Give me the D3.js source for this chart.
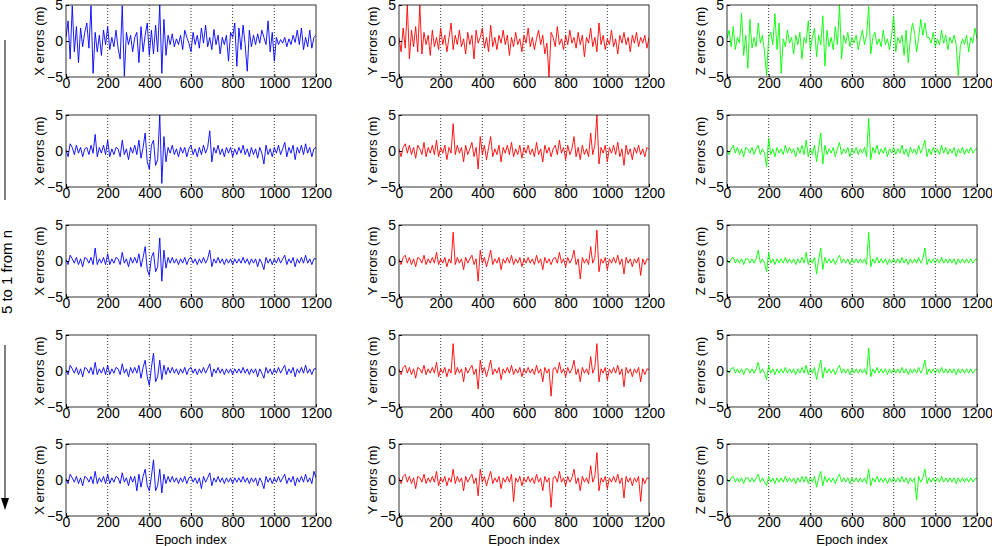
<!DOCTYPE html>
<html><head><meta charset="utf-8">
<script src="https://cdn.jsdelivr.net/npm/d3@7"></script>
<style>body{margin:0;background:#fff}svg{font-family:"Liberation Sans",Arial,sans-serif}</style>
</head><body><svg id="chart" width="992" height="546"></svg>
<script>
var xTicks = [0, 200, 400, 600, 800, 1000, 1200];
var yTicks = [-5, 0, 5];
var axisNames = ["X", "Y", "Z"];
var colors = ["#0000ff", "#ff0000", "#00ff00"];

var x1 = [0.5,2.8,-2.5,4.9,-1.5,2,-3,1.8,-0.8,1.2,2.5,-1,4.9,-4.5,1.2,-1.5,0.8,-2,1.5,-0.5,2,-1.2,0.5,-0.8,1.5,-1,-2.5,4.9,-4.9,1.2,-0.5,0.8,-1.5,0.5,1.2,-3,2,-1.5,0.8,2.5,-2,1.5,-1.8,2.2,-1.5,5,-4.5,3,-2,0.8,-0.5,1,-0.8,0.3,-0.5,0.8,-1.2,1.5,0.5,-0.3,-1.5,1.2,-0.5,0.8,-1,1.8,-0.3,2.2,-0.8,0.5,-1.2,1.6,-0.5,0.8,-1.8,0.5,-0.5,0.8,-2.8,1.2,0.5,2.5,-3.5,1.8,-1.2,2.2,-0.5,-4.2,1.5,-0.8,0.8,-0.5,1,-0.3,1.5,0.5,-0.5,2.8,-1.5,1.2,-2.8,0.5,-0.5,0.2,-0.3,0.5,-0.8,0.3,-0.5,0.8,-0.2,1.5,-0.5,1.8,-1.2,0.5,-0.8,1.5,-1,0.5,0.8];
var y1 = [0.5,-1.5,1.8,-1,5,-2.5,1.5,-0.8,2,-1.5,5,-1.8,1.2,-0.5,0.8,-2,1.5,-0.8,0.5,-1.2,1.8,-0.5,0.8,-1.5,0.5,2.5,-1.2,0.8,-0.5,1.5,-0.8,0.3,-1.8,1.2,-0.5,0.8,-2.5,1.5,-0.3,0.5,1.8,-1,0.5,-1.5,2.2,-0.8,0.5,-1.2,0.8,-0.3,1.5,-0.5,0.8,-2,0.5,-0.8,1.2,-0.5,0.3,-1.5,0.8,-0.3,1.8,-0.8,0.5,-1.2,0.3,1.5,-0.5,0.8,-1.8,-0.3,-5,1.2,0.5,-0.8,2,-0.5,0.3,-1.2,0.8,-0.5,1.5,-0.3,0.5,-1,1.2,-0.5,0.8,-2.2,0.5,-0.3,1.8,-0.8,0.5,-1.5,2.5,-0.5,0.8,-1.2,0.3,-0.5,1.5,-0.8,0.3,-1.8,0.8,-0.3,1.2,-0.5,0.5,-1.5,0.8,-0.3,1.2,-0.8,0.5,-0.3,0.8,-1,0.5];
var z1 = [0.3,1.5,-0.8,2,-1.2,0.5,-0.3,3.8,-2,0.8,-3.8,3,-1,0.5,-0.8,2.5,-0.3,0.8,-1.5,-4.8,0.5,1.2,-0.5,3.8,-1.2,2.5,-4.5,0.3,-0.8,1.5,-0.3,0.5,-1.8,0.8,-0.5,1.2,-2.5,0.5,-0.3,2.8,-1.2,0.5,1.8,-2.2,0.8,-0.5,3.5,-3.5,1.5,-0.8,0.5,-1.2,2,-0.5,5,-2.5,0.8,-0.3,1.2,-0.8,0.5,-0.3,0.8,-1.2,0.3,1.5,-0.5,0.8,4.8,-1.8,0.5,1.2,-0.5,0.3,-0.8,1.5,-0.5,0.3,-1.2,0.8,3.5,-1.5,0.5,-0.3,0.8,-2,1.5,-3,0.3,2.5,1.2,-1.5,0.5,3,0.8,2.5,0.5,0.5,-0.3,1.2,-0.8,0.3,-0.5,1.5,-0.3,0.8,-1.2,0.5,-0.3,0.8,-0.5,-4.8,-0.8,0.3,-0.5,0.8,-1.5,0.5,-0.3,1.8,0.3];
var x2 = [0.2,-0.8,1,0.5,-0.5,0.8,-0.3,0.5,-0.8,0.3,0.5,-0.5,0.8,-0.3,2.3,-0.8,0.5,-0.3,0.8,-0.5,1.5,-0.8,0.3,-0.5,0.5,0.3,-0.8,1.5,-0.5,0.3,-1.2,0.5,-0.3,0.8,-0.5,1.5,-1,0.5,2.5,-1.5,-2.5,0.8,1.5,-2,-1.2,5,-4.5,2,-1.5,0.5,-0.3,0.8,-0.5,0.3,-0.8,0.5,-0.3,0.5,-0.8,0.3,0.8,-0.5,0.3,-0.8,0.5,-0.5,0.8,-0.3,0.5,2.8,-1.5,0.5,-0.3,0.8,-0.5,0.3,-0.8,0.5,-0.3,0.5,-0.8,0.3,-0.5,0.5,-0.3,0.8,-0.5,0.3,-0.8,0.5,-0.5,0.3,-1,0.5,-0.3,-1.8,0.8,-0.5,0.3,-0.8,0.5,-0.3,0.8,-0.5,0.3,1.2,-0.8,0.5,-0.3,0.8,-1.2,0.5,-0.3,0.8,-0.5,1,-0.3,0.5,-0.8,0.3,0.5];
var y2 = [0.3,-0.8,0.5,1,-0.3,0.8,-0.5,0.5,-1,0.8,0.3,-0.5,1.2,-0.8,0.5,-0.3,0.8,-0.5,1.5,-0.8,0.5,-0.3,0.8,-1.2,0.5,-0.3,3.8,-0.5,0.8,-0.3,0.5,-1.5,0.8,-0.5,0.3,1.2,-0.8,0.5,-2.5,2,-0.5,0.8,-1.2,0.5,2,-0.8,0.3,-0.5,0.8,-1.5,0.5,-0.3,0.8,-0.5,1.2,-0.8,0.3,-0.5,0.8,-1,0.5,-0.3,0.8,-0.5,0.3,-0.8,1.2,-0.5,0.3,-1.5,0.8,-0.3,0.5,-0.8,0.3,0.8,-0.5,1.5,-0.3,0.5,-1.2,0.8,-0.5,0.3,2,-0.8,0.5,-1.2,0.8,-0.5,0.3,-0.8,2.5,-0.5,0.8,5,-1.8,0.5,-0.3,0.8,-1.5,0.5,-0.3,0.8,-0.5,1.2,-0.8,0.3,-2,0.8,-0.5,0.3,-1.2,0.5,-0.3,0.8,-0.5,0.3,-0.8,0.5,0.2];
var z2 = [0.2,-0.5,0.3,0.8,-0.3,0.5,-0.5,0.3,-0.8,0.5,0.3,-0.3,0.5,-0.5,0.3,0.8,-0.5,0.3,-0.3,-2.2,1.8,-0.5,0.3,-0.8,0.5,-0.3,0.3,-0.5,0.8,-0.3,0.5,-0.3,0.3,-0.8,0.5,-0.3,0.8,-0.5,1.5,-0.8,0.3,-0.5,0.8,-1.5,0.5,2.5,-1.8,0.8,-0.5,0.3,-0.3,0.5,-0.8,0.3,1.2,-0.5,0.3,-0.3,0.5,-0.8,0.3,-0.3,0.5,-0.5,0.3,-0.3,0.5,-0.8,4.5,-1.2,0.5,-0.3,0.8,-0.5,0.3,-0.3,0.5,-0.8,0.3,-0.3,0.5,-0.5,0.3,-0.3,0.8,-0.5,0.3,-0.8,0.5,-0.3,0.3,-0.5,0.8,-0.3,0.5,1.5,-0.8,0.3,-0.5,0.5,-0.3,0.3,-0.5,0.8,-0.3,0.5,-0.5,0.3,-0.3,0.5,-0.8,0.3,-0.3,0.5,-0.5,0.3,-0.3,0.5,-0.3,0.2,0.3];
var x3 = [0.2,-0.5,0.8,0.3,-0.3,0.5,-0.5,0.3,-0.8,0.5,0.3,-0.3,0.5,-0.5,1.8,-0.5,0.3,-0.3,0.5,-0.5,1,-0.5,0.3,-0.3,0.5,0.3,-0.5,1.2,-0.3,0.3,-0.8,0.5,-0.3,0.5,-0.3,1,-0.8,0.5,2,-1.2,-2,0.5,1.2,-1.5,-0.8,3.2,-2.8,1.5,-1,0.5,-0.3,0.5,-0.3,0.3,-0.5,0.3,-0.3,0.5,-0.5,0.3,0.5,-0.3,0.3,-0.5,0.3,-0.3,0.5,-0.3,0.3,1.5,-0.8,0.3,-0.3,0.5,-0.3,0.3,-0.5,0.3,-0.3,0.3,-0.5,0.3,-0.3,0.3,-0.3,0.5,-0.3,0.3,-0.5,0.3,-0.3,0.3,-0.8,0.3,-0.3,-1.2,0.5,-0.3,0.3,-0.5,0.3,-0.3,0.5,-0.3,0.3,0.8,-0.5,0.3,-0.3,0.5,-0.8,0.3,-0.3,0.5,-0.3,0.8,-0.3,0.3,-0.5,0.3,0.3];
var y3 = [0.3,-0.5,0.5,0.8,-0.3,0.5,-0.5,0.3,-0.8,0.5,0.3,-0.3,0.8,-0.5,0.3,-0.3,0.5,-0.3,1.2,-0.5,0.3,-0.3,0.5,-0.8,0.3,-0.3,4,-0.5,0.5,-0.3,0.3,-1.2,0.5,-0.3,0.3,0.8,-0.5,0.3,-2.8,1.5,-0.3,0.5,-0.8,0.3,1.5,-0.5,0.3,-0.3,0.5,-1.2,0.3,-0.3,0.5,-0.3,0.8,-0.5,0.3,-0.3,0.5,-0.8,0.3,-0.3,0.5,-0.3,0.3,-0.5,0.8,-0.3,0.3,-1.2,0.5,-0.3,0.3,-0.5,0.3,0.5,-0.3,1.2,-0.3,0.3,-0.8,0.5,-0.3,0.3,1.5,-0.5,0.3,-2.5,0.5,-0.3,0.3,-0.5,2,-0.3,0.5,4.3,-1.5,0.3,-0.3,0.5,-1.2,0.3,-0.3,0.5,-0.3,0.8,-0.5,0.3,-1.8,0.5,-0.3,0.3,-0.8,0.3,-0.3,0.5,-2,0.3,-0.5,0.3,0.2];
var z3 = [0.2,-0.3,0.3,0.5,-0.3,0.3,-0.3,0.3,-0.5,0.3,0.3,-0.3,0.3,-0.3,0.3,1.5,-0.3,0.3,-0.3,-1.5,1.2,-0.3,0.3,-0.5,0.3,-0.3,0.3,-0.3,0.5,-0.3,0.3,-0.3,0.3,-0.5,0.3,-0.3,0.5,-0.3,1.2,-0.5,0.3,-0.3,0.5,-1.8,0.3,1.8,-1.2,0.5,-0.3,0.3,-0.3,0.3,-0.5,0.3,0.8,-0.3,0.3,-0.3,0.3,-0.5,0.3,-0.3,0.3,-0.3,0.3,-0.3,0.3,-0.5,4,-0.8,0.3,-0.3,0.5,-0.3,0.3,-0.3,0.3,-0.5,0.3,-0.3,0.3,-0.3,0.3,-0.3,0.5,-0.3,0.3,-0.5,0.3,-0.3,0.3,-0.3,0.5,-0.3,0.3,1.8,-0.5,0.3,-0.3,0.3,-0.3,0.3,-0.3,0.5,-0.3,0.3,-0.3,0.3,-0.3,0.3,-0.5,0.3,-0.3,0.3,-0.3,0.3,-0.3,0.3,-0.3,0.2,0.2];
var x4 = [0.2,-0.5,0.8,0.3,-0.3,0.5,-0.5,0.3,-0.8,0.5,0.3,-0.3,0.5,-0.5,1.2,-0.5,0.3,-0.3,0.5,-0.5,0.8,-0.5,0.3,-0.3,0.5,0.3,-0.5,1,-0.3,0.3,-0.8,0.5,-0.3,0.5,-0.3,0.8,-1,0.5,1.5,-0.8,-2,0.5,2.5,-1.5,-0.8,1.5,-1.2,0.8,-0.5,0.5,-0.3,0.5,-0.3,0.3,-0.5,0.3,-0.3,0.5,-0.5,0.3,0.5,-0.3,0.3,-0.5,0.3,-0.3,0.5,-0.3,0.3,1,-0.8,0.3,-0.3,0.5,-0.3,0.3,-0.5,0.3,-0.3,0.3,-0.5,0.3,-0.3,0.3,-0.3,0.5,-0.3,0.3,-0.5,0.3,-0.3,0.3,-0.8,0.3,-0.3,-1,0.5,-0.3,0.3,-0.5,0.3,-0.3,0.5,-0.3,0.3,0.8,-0.5,0.3,-0.3,0.5,-0.8,0.3,-0.3,0.5,-0.3,0.8,-0.3,0.3,-0.5,0.3,0.3];
var y4 = [0.3,-0.5,0.5,0.8,-0.3,0.5,-0.5,0.3,-1,0.5,0.3,-0.3,0.8,-0.5,0.3,-0.3,0.5,-0.3,1.2,-0.8,0.3,-0.3,0.5,-0.8,0.3,-0.3,3.8,-0.5,0.5,-0.3,0.3,-1.5,0.5,-0.3,0.3,0.8,-0.5,0.3,-2.5,1.5,-0.3,0.5,-0.8,0.3,1.5,-0.5,0.3,-0.3,0.5,-1.2,0.3,-0.3,0.5,-0.3,0.8,-0.5,0.3,-0.3,0.5,-0.8,0.3,-0.3,0.5,-0.3,0.3,-0.5,0.8,-0.3,0.3,-1.5,0.5,-0.3,0.3,-3.5,0.3,0.5,-0.3,1.2,-0.3,0.3,-0.8,0.5,-0.3,0.3,1.5,-0.5,0.3,-1.5,0.5,-0.3,0.3,-0.5,2,-0.3,0.5,3.8,-1.5,0.3,-0.3,0.5,-1.2,0.3,-0.3,0.5,-0.3,0.8,-0.5,0.3,-2.2,0.5,-0.3,0.3,-0.8,0.3,-0.3,0.5,-1.5,0.3,-0.5,0.3,0.2];
var z4 = [0.2,-0.3,0.3,0.5,-0.3,0.3,-0.3,0.3,-0.5,0.3,0.3,-0.3,0.3,-0.3,0.3,1.2,-0.3,0.3,-0.3,-1.2,0.8,-0.3,0.3,-0.5,0.3,-0.3,0.3,-0.3,0.5,-0.3,0.3,-0.3,0.3,-0.5,0.3,-0.3,0.5,-0.3,0.8,-0.5,0.3,-0.3,0.5,-1.2,0.3,1.5,-1,0.5,-0.3,0.3,-0.3,0.3,-0.5,0.3,0.8,-0.3,0.3,-0.3,0.3,-0.5,0.3,-0.3,0.3,-0.3,0.3,-0.3,0.3,-0.5,3.2,-0.8,0.3,-0.3,0.5,-0.3,0.3,-0.3,0.3,-0.5,0.3,-0.3,0.3,-0.3,0.3,-0.3,0.5,-0.3,0.3,-0.5,0.3,-0.3,0.3,-0.3,0.5,-0.3,0.3,1.5,-0.5,0.3,-0.3,0.3,-0.3,0.3,-0.3,0.5,-0.3,0.3,-0.3,0.3,-0.3,0.3,-0.5,0.3,-0.3,0.3,-0.3,0.3,-0.3,0.3,-0.3,0.2,0.2];
var x5 = [0.2,-0.5,0.8,0.3,-0.3,0.5,-0.5,0.3,-0.8,0.5,0.3,-0.3,0.5,-0.5,1.2,-0.5,0.3,-0.3,0.5,-0.5,0.8,-0.5,0.3,-0.3,0.5,0.3,-0.5,1,-0.3,0.3,-0.8,0.5,-0.3,0.5,-1.5,0.8,-1,0.5,1.5,-0.8,-1.5,0.5,2.8,-1.5,-0.8,1.5,-1.8,0.8,-0.5,0.5,-0.3,0.5,-0.3,0.3,-0.5,0.3,-0.3,0.5,-0.5,0.3,0.5,-0.3,0.3,-0.5,0.3,-1.2,0.5,-0.3,0.3,1,-0.8,0.3,-0.3,0.5,-0.3,0.3,-0.5,0.3,-0.3,0.3,-0.5,0.3,-0.3,0.3,-0.3,0.5,-0.3,0.3,-0.5,0.3,-0.3,0.3,-0.8,0.3,-0.3,-1.2,0.5,-0.3,0.3,-0.5,0.3,-0.3,0.5,-0.3,0.3,0.8,-0.5,0.3,-0.3,0.5,-0.8,0.3,-0.3,0.5,-0.3,0.8,-0.3,0.3,-0.5,1.2,0.3];
var y5 = [0.3,-0.5,0.5,0.8,-0.3,0.5,-0.5,0.3,-1.2,0.5,0.3,-0.3,0.8,-0.5,0.3,-0.3,0.5,-0.3,1.2,-0.8,0.3,-0.3,0.5,-0.8,0.3,-0.3,1.5,-0.5,0.5,-0.3,0.3,-1.5,0.5,-0.3,0.3,0.8,-0.5,0.3,-2.2,1.5,-0.3,0.5,-0.8,0.3,1.2,-0.5,0.3,-0.3,0.5,-1.2,0.3,-0.3,0.5,-0.3,0.8,-3,0.3,-0.3,0.5,-0.8,0.3,-0.3,0.5,-0.3,0.3,-0.5,0.8,-0.3,0.3,-1.5,0.5,-0.3,0.3,-3.8,0.3,0.5,-0.3,1.2,-0.3,0.3,-0.8,0.5,-0.3,0.3,1.5,-0.5,0.3,-1.5,0.5,-0.3,0.3,-0.5,2,-0.3,0.5,3.8,-1.5,0.3,-0.3,0.5,-1.2,0.3,-0.3,0.5,-0.3,0.8,-0.5,0.3,-2.5,0.5,-0.3,0.3,-0.8,0.3,-0.3,0.5,-3,0.3,-0.5,0.3,0.2];
var z5 = [0.2,-0.3,0.3,0.5,-0.3,0.3,-0.3,0.3,-0.5,0.3,0.3,-0.3,0.3,-0.3,0.3,0.8,-0.3,0.3,-0.3,-0.8,0.5,-0.3,0.3,-0.5,0.3,-0.3,0.3,-0.3,0.5,-0.3,0.3,-0.3,0.3,-0.5,0.3,-0.3,0.5,-0.3,0.5,-0.5,0.3,-0.3,0.5,-1,0.3,1.2,-0.8,0.5,-0.3,0.3,-0.3,0.3,-0.5,0.3,0.8,-0.3,0.3,-0.3,0.3,-0.5,0.3,-0.3,0.3,-0.3,0.3,-0.3,0.3,-0.5,1.5,-0.8,0.3,-0.3,0.5,-0.3,0.3,-0.3,0.3,-0.5,0.3,-0.3,0.3,-0.3,0.3,-0.3,0.5,-0.3,0.3,-0.5,0.3,-0.3,0.3,-2.8,0.5,-0.3,0.3,1.5,-0.5,0.3,-0.3,0.3,-0.3,0.3,-0.3,0.5,-0.3,0.3,-0.3,0.3,-0.3,0.3,-0.5,0.3,-0.3,0.3,-0.3,0.3,-0.3,0.3,-0.3,0.2,0.2];

var series = [[x1, y1, z1], [x2, y2, z2], [x3, y3, z3], [x4, y4, z4], [x5, y5, z5]];

var svg = d3.select("#chart");
var colLeft = [66, 399, 727], pw = 250, ph = 72;
var rowTop = [5, 115, 225, 335, 444];

series.forEach(function(row, r) {
  row.forEach(function(vals, c) {
    var g = svg.append("g").attr("transform", "translate(" + colLeft[c] + "," + rowTop[r] + ")");
    var x = d3.scaleLinear().domain([0, 1200]).range([0, pw]);
    var y = d3.scaleLinear().domain([-5, 5]).range([ph, 0]);
    g.selectAll(".grid").data(xTicks.slice(1, -1)).enter().append("line")
      .attr("x1", d => x(d)).attr("x2", d => x(d)).attr("y1", 0).attr("y2", ph)
      .attr("stroke", "#000").attr("stroke-dasharray", "1,2").attr("stroke-width", 0.8);
    var line = d3.line().x((d, i) => x(i * 1200 / (vals.length - 1))).y(d => y(d));
    g.append("defs").append("clipPath").attr("id", "c" + r + c)
      .append("rect").attr("width", pw).attr("height", ph);
    g.append("path").datum(vals).attr("d", line).attr("fill", "none")
      .attr("stroke", colors[c]).attr("stroke-width", 0.9).attr("clip-path", "url(#c" + r + c + ")");
    g.append("rect").attr("width", pw).attr("height", ph).attr("fill", "none").attr("stroke", "#000").attr("stroke-width", 0.8);
    var ax = g.append("g").attr("transform", "translate(0," + ph + ")")
      .call(d3.axisBottom(x).tickValues(xTicks).tickSize(-3).tickPadding(1).tickFormat(d3.format("d")));
    var ay = g.append("g").call(d3.axisLeft(y).tickValues(yTicks).tickSize(-3).tickPadding(3));
    [ax, ay].forEach(function(a) {
      a.select(".domain").remove();
      a.selectAll("text").attr("font-size", 14).attr("fill", "#000").attr("font-family", "Liberation Sans, Arial");
    });
    g.append("text").attr("transform", "translate(-22," + ph / 2 + ") rotate(-90)")
      .attr("text-anchor", "middle").attr("font-size", 13).text(axisNames[c] + " errors (m)");
    if (r === 4) {
      g.append("text").attr("x", pw / 2).attr("y", ph + 28).attr("text-anchor", "middle")
        .attr("font-size", 13).text("Epoch index");
    }
  });
});

// left arrow and label
svg.append("line").attr("x1", 5).attr("x2", 5).attr("y1", 40).attr("y2", 200).attr("stroke", "#000");
svg.append("line").attr("x1", 5).attr("x2", 5).attr("y1", 345).attr("y2", 500).attr("stroke", "#000");
svg.append("path").attr("d", "M1,498 L9,498 L5,510 Z").attr("fill", "#000");
svg.append("text").attr("transform", "translate(12,272) rotate(-90)").attr("text-anchor", "middle")
  .attr("font-size", 15).text("5 to 1 from n");
</script></body></html>
